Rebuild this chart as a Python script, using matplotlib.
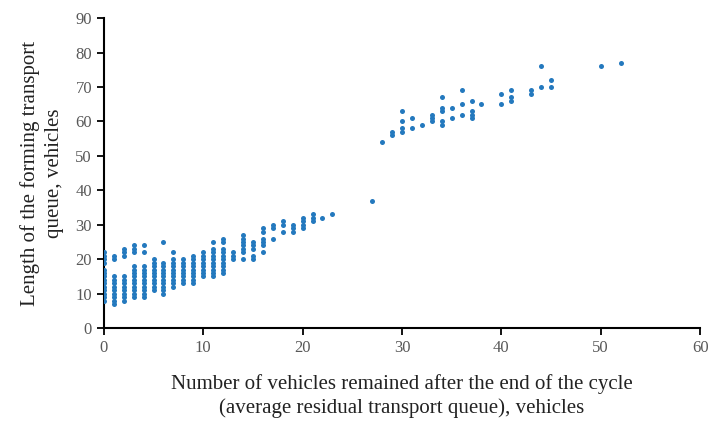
import matplotlib
matplotlib.use("Agg")
import matplotlib.pyplot as plt

# Residual queue (x) and forming queue length (y)
x_vals = (
    [0]*14 + [1]*11 + [2]*11 + [3]*13 + [4]*12 + [5]*10 + [6]*11 + [7]*10
    + [8]*8 + [9]*9 + [10]*8 + [11]*10 + [12]*10 + [13]*3 + [14]*7 + [15]*5
    + [16]*6 + [17]*3 + [18]*3 + [19]*3 + [20]*4 + [21]*3 + [22] + [23] + [27]
    + [28] + [29]*2 + [30]*4 + [31]*2 + [32] + [33]*3 + [34]*5 + [35]*2
    + [36]*3 + [37]*4 + [38] + [40]*2 + [41]*3 + [43]*2 + [44]*2 + [45]*2
    + [50] + [52]
)
y_vals = (
    [8, 9, 10, 11, 12, 13, 14, 15, 16, 17, 19, 20, 21, 22]
    + [7, 8, 9, 10, 11, 12, 13, 14, 15, 20, 21]
    + [8, 9, 10, 11, 12, 13, 14, 15, 21, 22, 23]
    + [9, 10, 11, 12, 13, 14, 15, 16, 17, 18, 22, 23, 24]
    + [9, 10, 11, 12, 13, 14, 15, 16, 17, 18, 22, 24]
    + [11, 12, 13, 14, 15, 16, 17, 18, 19, 20]
    + [10, 11, 12, 13, 14, 15, 16, 17, 18, 19, 25]
    + [12, 13, 14, 15, 16, 17, 18, 19, 20, 22]
    + [13, 14, 15, 16, 17, 18, 19, 20]
    + [13, 14, 15, 16, 17, 18, 19, 20, 21]
    + [15, 16, 17, 18, 19, 20, 21, 22]
    + [15, 16, 17, 18, 19, 20, 21, 22, 23, 25]
    + [16, 17, 18, 19, 20, 21, 22, 23, 25, 26]
    + [20, 21, 22]
    + [20, 22, 23, 24, 25, 26, 27]
    + [20, 21, 23, 24, 25]
    + [22, 24, 25, 26, 28, 29]
    + [26, 29, 30]
    + [28, 30, 31]
    + [28, 29, 30]
    + [29, 30, 31, 32]
    + [31, 32, 33]
    + [32]
    + [33]
    + [37]
    + [54]
    + [56, 57]
    + [57, 58, 60, 63]
    + [58, 61]
    + [59]
    + [60, 61, 62]
    + [59, 60, 63, 64, 67]
    + [61, 64]
    + [62, 65, 69]
    + [61, 62, 63, 66]
    + [65]
    + [65, 68]
    + [66, 67, 69]
    + [68, 69]
    + [70, 76]
    + [70, 72]
    + [76]
    + [77]
)

x_ticks = [0, 10, 20, 30, 40, 50, 60]
y_ticks = [0, 10, 20, 30, 40, 50, 60, 70, 80, 90]
x_label = "Number of vehicles remained after the end of the cycle\n(average residual transport queue), vehicles"
y_label = "Length of the forming transport\nqueue, vehicles"

plt.rcParams['font.family'] = ['Liberation Serif', 'DejaVu Serif']

fig = plt.figure(figsize=(7.21, 4.30), dpi=100)
ax = fig.add_axes([0.144, 0.237, 0.827, 0.721])

ax.scatter(x_vals, y_vals, s=13, color='#2479BE', linewidths=0, zorder=3)

ax.set_xlim(0, 60)
ax.set_ylim(0, 90)
ax.set_xticks(x_ticks)
ax.set_yticks(y_ticks)

for s in ['top', 'right']:
    ax.spines[s].set_visible(False)
for s in ['left', 'bottom']:
    ax.spines[s].set_color('black')
    ax.spines[s].set_linewidth(1.5)

ax.tick_params(axis='both', direction='out', length=5, width=1.3,
               labelsize=12, colors='black')
for lbl in ax.get_xticklabels() + ax.get_yticklabels():
    lbl.set_color('#595959')

ax.set_xlabel(x_label, fontsize=15, color='#222222', labelpad=13, linespacing=1.3)
ax.set_ylabel(y_label, fontsize=15, color='#222222', labelpad=8, linespacing=1.4)

fig.savefig('out.png', dpi=100)
